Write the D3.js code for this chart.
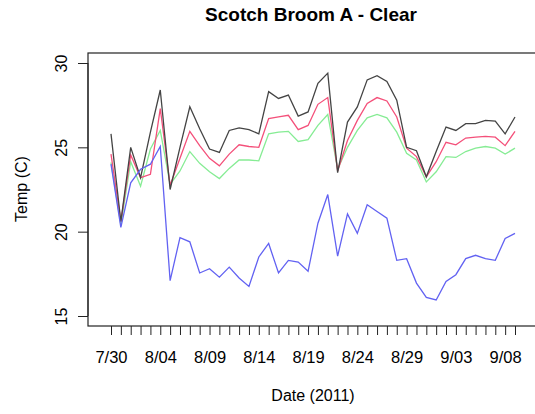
<!DOCTYPE html>
<html><head><meta charset="utf-8">
<script src="https://cdn.jsdelivr.net/npm/d3@7"></script>
<style>body{margin:0;background:#fff;} svg{display:block;} text{font-family:"Liberation Sans",Arial,sans-serif;fill:#000;}</style>
</head><body>
<script>
const startDate = "2011-07-30";
const tickLabels = ["7/30","8/04","8/09","8/14","8/19","8/24","8/29","9/03","9/08"];
const yTicks = [15,20,25,30];
const seriesBlack = [25.8,20.6,25.0,23.2,25.9,28.4,22.5,25.0,27.4,26.1,24.9,24.7,26.0,26.15,26.05,25.8,28.3,27.9,28.1,26.85,27.1,28.8,29.4,23.5,26.5,27.4,29.0,29.25,28.9,27.8,25.0,24.8,23.25,24.75,26.2,26.0,26.4,26.4,26.6,26.55,25.8,26.8];
const seriesRed = [24.6,20.6,24.55,23.2,23.4,27.3,22.75,24.35,25.95,25.1,24.35,23.9,24.6,25.15,25.05,25.0,26.7,26.8,26.9,26.05,26.3,27.55,27.95,23.6,25.4,26.6,27.6,27.95,27.75,26.8,24.95,24.45,23.25,24.15,25.3,25.15,25.55,25.6,25.65,25.6,25.1,25.95];
const seriesGreen = [24.1,20.4,24.15,22.7,24.9,26.0,22.8,23.6,24.75,24.05,23.55,23.15,23.75,24.25,24.25,24.2,25.8,25.9,25.95,25.35,25.45,26.3,26.95,23.7,25.0,26.0,26.75,26.95,26.75,25.9,24.65,24.25,22.95,23.55,24.45,24.4,24.75,24.95,25.05,24.95,24.6,24.95];
const seriesBlue = [24.0,20.25,22.9,23.7,24.0,25.05,17.1,19.65,19.4,17.55,17.8,17.3,17.9,17.25,16.75,18.5,19.3,17.55,18.3,18.2,17.65,20.5,22.2,18.55,21.05,19.9,21.6,21.2,20.8,18.3,18.4,16.95,16.1,15.95,17.05,17.45,18.4,18.6,18.4,18.3,19.6,19.9];

const W = 535, H = 414;
const box = {left: 88, top: 53, right: 545, bottom: 326};
const parse = d3.timeParse("%Y-%m-%d");
const d0 = parse(startDate);
const dates = seriesBlack.map((_, i) => d3.timeDay.offset(d0, i));
const x = d3.scaleTime().domain([d0, dates[dates.length - 1]]).range([111, 515]);
const y = d3.scaleLinear().domain([15, 30]).range([316, 63]);

const svg = d3.select("body").append("svg").attr("width", W).attr("height", H);

svg.append("rect").attr("x", box.left).attr("y", box.top)
  .attr("width", box.right - box.left).attr("height", box.bottom - box.top)
  .attr("fill", "none").attr("stroke", "#222").attr("stroke-width", 1.2);

const fmt = d3.timeFormat("%-m/%d");
const xAxis = d3.axisBottom(x).tickValues(dates).tickSize(9).tickPadding(16)
  .tickFormat(d => { const s = fmt(d); return tickLabels.includes(s) ? s : ""; });
const gx = svg.append("g").attr("transform", `translate(0,${box.bottom})`).call(xAxis);
gx.select(".domain").remove();
gx.selectAll(".tick line").attr("stroke", "#222");
gx.selectAll(".tick text").attr("font-size", "16.5px").attr("fill", "#000");

const yAxis = d3.axisLeft(y).tickValues(yTicks).tickSize(10).tickFormat(d3.format("d"));
const gy = svg.append("g").attr("transform", `translate(${box.left},0)`).call(yAxis);
gy.select(".domain").attr("d", `M0,${y(15)}V${y(30)}`).attr("stroke", "#222");
gy.selectAll(".tick line").attr("stroke", "#222");
gy.selectAll(".tick text").attr("font-size", "16px").attr("fill", "#000")
  .attr("text-anchor", "middle").attr("x", 0).attr("dy", 0)
  .attr("transform", "translate(-21,0) rotate(-90)");

const line = d3.line().x((d, i) => x(dates[i])).y(d => y(d));
const series = [
  {v: seriesGreen, c: "#86ec94"},
  {v: seriesRed, c: "#f4507a"},
  {v: seriesBlack, c: "#444"},
  {v: seriesBlue, c: "#6262f2"}
];
series.forEach(s => svg.append("path").datum(s.v).attr("d", line)
  .attr("fill", "none").attr("stroke", s.c).attr("stroke-width", 1.3));

svg.append("text").attr("x", 311).attr("y", 21).attr("text-anchor", "middle")
  .attr("font-size", "19px").attr("font-weight", "bold").text("Scotch Broom A - Clear");
svg.append("text").attr("x", 313).attr("y", 401).attr("text-anchor", "middle")
  .attr("font-size", "16px").text("Date (2011)");
svg.append("text").attr("transform", "translate(27,189) rotate(-90)").attr("text-anchor", "middle")
  .attr("font-size", "16px").text("Temp (C)");
</script>
</body></html>
